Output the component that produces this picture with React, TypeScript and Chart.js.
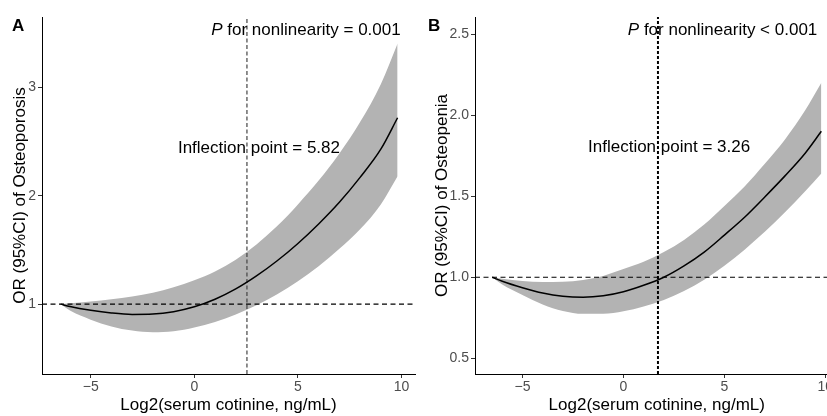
import React, { useEffect, useRef } from "react";
import { Chart, registerables } from "chart.js";

Chart.register(...registerables);

// ---------------- data ----------------
// Panel A: Osteoporosis
const X_A = [-6.45, -6, -5, -4, -3, -2, -1, 0, 1, 2, 3, 4, 5, 6, 7, 8, 9, 9.81];
const OR_A = [1.0, 0.978, 0.943, 0.918, 0.905, 0.908, 0.93, 0.975, 1.045, 1.14, 1.26, 1.4, 1.56, 1.74, 1.94, 2.17, 2.43, 2.72];
const UPPER_A = [1.0, 1.008, 1.025, 1.045, 1.07, 1.105, 1.155, 1.22, 1.3, 1.41, 1.55, 1.72, 1.92, 2.14, 2.39, 2.68, 3.03, 3.405];
const LOWER_A = [1.0, 0.94, 0.856, 0.794, 0.756, 0.741, 0.75, 0.785, 0.835, 0.905, 0.99, 1.09, 1.21, 1.35, 1.51, 1.69, 1.92, 2.18];

// Panel B: Osteopenia
const X_B = [-6.5, -6, -5, -4, -3, -2, -1, 0, 1, 2, 3, 4, 5, 6, 7, 8, 9, 9.8];
const OR_B = [1.0, 0.975, 0.935, 0.902, 0.882, 0.876, 0.885, 0.91, 0.95, 1.0, 1.07, 1.155, 1.26, 1.37, 1.495, 1.625, 1.765, 1.9];
const UPPER_B = [1.0, 0.99, 0.977, 0.97, 0.972, 0.983, 1.008, 1.05, 1.095, 1.155, 1.23, 1.325, 1.44, 1.56, 1.7, 1.85, 2.03, 2.2];
const LOWER_B = [1.0, 0.955, 0.89, 0.832, 0.792, 0.774, 0.774, 0.79, 0.82, 0.86, 0.915, 0.985, 1.07, 1.17, 1.28, 1.4, 1.53, 1.64];

const X_TICKS = [-5, 0, 5, 10];
const Y_TICKS_A = [1, 2, 3];
const Y_TICKS_B = [0.5, 1.0, 1.5, 2.0, 2.5];

const REF_OR = 1;
const INFLECTION_LOG2_A = 2.54; // log2(5.82)
const INFLECTION_LOG2_B = 1.71; // log2(3.26)

const X_LABEL = "Log2(serum cotinine, ng/mL)";
const Y_LABEL_A = "OR (95%CI) of Osteoporosis";
const Y_LABEL_B = "OR (95%CI) of Osteopenia";
const P_TEXT_A = " for nonlinearity = 0.001";
const P_TEXT_B = " for nonlinearity < 0.001";
const INFL_TEXT_A = "Inflection point = 5.82";
const INFL_TEXT_B = "Inflection point = 3.26";

// ---------------- styling ----------------
const FONT = "'Liberation Sans', Arial, Helvetica, sans-serif";
Chart.defaults.font.family = FONT;

type PanelCfg = {
  tag: string;
  left: number;
  width: number;
  xs: number[];
  or: number[];
  upper: number[];
  lower: number[];
  yTicks: number[];
  yMin: number;
  yMax: number;
  yDecimals: number;
  yLabel: string;
  yAxisWidth: number;
  yTitlePad: number;
  rightPad: number;
  vLine: number;
  vColor: string;
  vWidth: number;
  vDash: number[];
  pText: string;
  pAt: [number, number];
  inflText: string;
  inflAt: [number, number];
};

const X_MIN = -7.35;
const X_MAX = 10.65;

const PANELS: PanelCfg[] = [
  {
    tag: "A",
    left: 0,
    width: 416,
    xs: X_A,
    or: OR_A,
    upper: UPPER_A,
    lower: LOWER_A,
    yTicks: Y_TICKS_A,
    yMin: 0.355,
    yMax: 3.65,
    yDecimals: 0,
    yLabel: Y_LABEL_A,
    yAxisWidth: 42,
    yTitlePad: 10.5,
    rightPad: 1,
    vLine: INFLECTION_LOG2_A,
    vColor: "#444444",
    vWidth: 1.2,
    vDash: [4, 2.5],
    pText: P_TEXT_A,
    pAt: [9.96, 3.482],
    inflText: INFL_TEXT_A,
    inflAt: [3.12, 2.399],
  },
  {
    tag: "B",
    left: 416,
    width: 430,
    xs: X_B,
    or: OR_B,
    upper: UPPER_B,
    lower: LOWER_B,
    yTicks: Y_TICKS_B,
    yMin: 0.403,
    yMax: 2.605,
    yDecimals: 1,
    yLabel: Y_LABEL_B,
    yAxisWidth: 59,
    yTitlePad: 16.3,
    rightPad: 7.5,
    vLine: INFLECTION_LOG2_B,
    vColor: "#000000",
    vWidth: 2,
    vDash: [3, 2],
    pText: P_TEXT_B,
    pAt: [9.6, 2.496],
    inflText: INFL_TEXT_B,
    inflAt: [2.26, 1.77],
  },
];

function fmtX(v: number): string {
  return v < 0 ? "\u2212" + Math.abs(v) : String(v);
}

function Panel({ cfg }: { cfg: PanelCfg }) {
  const ref = useRef<HTMLCanvasElement | null>(null);

  useEffect(() => {
    const canvas = ref.current;
    if (!canvas) return;
    const pts = (xs: number[], ys: number[]) => xs.map((x, i) => ({ x, y: ys[i] }));

    const textPlugin = {
      id: "texts" + cfg.tag,
      afterDraw(chart: any) {
        const ctx = chart.ctx as CanvasRenderingContext2D;
        const xs = chart.scales.x;
        const ys = chart.scales.y;
        ctx.save();
        ctx.fillStyle = "#000";
        // panel tag
        ctx.font = `bold 17px ${FONT}`;
        ctx.textAlign = "left";
        ctx.textBaseline = "alphabetic";
        ctx.fillText(cfg.tag, 12, 31);
        // P for nonlinearity (right aligned)
        const px = xs.getPixelForValue(cfg.pAt[0]);
        const py = ys.getPixelForValue(cfg.pAt[1]);
        ctx.font = `italic 17px ${FONT}`;
        const wP = ctx.measureText("P").width;
        ctx.font = `17px ${FONT}`;
        const wR = ctx.measureText(cfg.pText).width;
        const start = px - wP - wR;
        ctx.font = `italic 17px ${FONT}`;
        ctx.fillText("P", start, py);
        ctx.font = `17px ${FONT}`;
        ctx.fillText(cfg.pText, start + wP, py);
        // inflection text (centered)
        ctx.textAlign = "center";
        ctx.fillText(cfg.inflText, xs.getPixelForValue(cfg.inflAt[0]), ys.getPixelForValue(cfg.inflAt[1]));
        ctx.restore();
      },
    };

    const chart = new Chart(canvas, {
      type: "line",
      data: {
        datasets: [
          {
            label: "OR",
            data: pts(cfg.xs, cfg.or),
            borderColor: "#000000",
            borderWidth: 1.5,
            pointRadius: 0,
            fill: false,
            cubicInterpolationMode: "monotone",
            order: 0,
          },
          {
            label: "ref-h",
            data: [
              { x: X_MIN, y: REF_OR },
              { x: X_MAX, y: REF_OR },
            ],
            borderColor: "#000000",
            borderWidth: 1.1,
            borderDash: [5, 3.5],
            pointRadius: 0,
            fill: false,
            order: 1,
          },
          {
            label: "ref-v",
            data: [
              { x: cfg.vLine, y: cfg.yMin },
              { x: cfg.vLine, y: cfg.yMax },
            ],
            borderColor: cfg.vColor,
            borderWidth: cfg.vWidth,
            borderDash: cfg.vDash,
            pointRadius: 0,
            fill: false,
            order: 1,
          },
          {
            label: "upper",
            data: pts(cfg.xs, cfg.upper),
            borderWidth: 0,
            borderColor: "rgba(0,0,0,0)",
            backgroundColor: "#B3B3B3",
            pointRadius: 0,
            fill: "+1",
            cubicInterpolationMode: "monotone",
            order: 10,
          },
          {
            label: "lower",
            data: pts(cfg.xs, cfg.lower),
            borderWidth: 0,
            borderColor: "rgba(0,0,0,0)",
            pointRadius: 0,
            fill: false,
            cubicInterpolationMode: "monotone",
            order: 11,
          },
        ],
      },
      options: {
        animation: false,
        responsive: false,
        devicePixelRatio: 1,
        events: [],
        layout: { padding: { top: 17, right: cfg.rightPad, left: 0, bottom: 0 } },
        plugins: {
          legend: { display: false },
          tooltip: { enabled: false },
          title: { display: false },
        },
        scales: {
          x: {
            type: "linear",
            min: X_MIN,
            max: X_MAX,
            afterBuildTicks: (scale: any) => {
              scale.ticks = X_TICKS.map((v) => ({ value: v }));
            },
            afterFit: (scale: any) => {
              scale.height = 42;
            },
            ticks: {
              autoSkip: false,
              maxRotation: 0,
              padding: 1,
              color: "#4D4D4D",
              font: { size: 14 },
              callback: (v: any) => fmtX(Number(v)),
            },
            grid: {
              display: true,
              drawOnChartArea: false,
              drawTicks: true,
              tickLength: 4,
              color: "#333333",
              lineWidth: 1,
            },
            border: { display: true, color: "#000000", width: 1 },
            title: {
              display: true,
              text: X_LABEL,
              color: "#000000",
              font: { size: 17 },
              padding: { top: 0, bottom: 0 },
            },
          },
          y: {
            type: "linear",
            min: cfg.yMin,
            max: cfg.yMax,
            afterBuildTicks: (scale: any) => {
              scale.ticks = cfg.yTicks.map((v) => ({ value: v }));
            },
            afterFit: (scale: any) => {
              scale.width = cfg.yAxisWidth;
            },
            ticks: {
              autoSkip: false,
              padding: 2,
              color: "#4D4D4D",
              font: { size: 14 },
              callback: (v: any) => Number(v).toFixed(cfg.yDecimals),
            },
            grid: {
              display: true,
              drawOnChartArea: false,
              drawTicks: true,
              tickLength: 4,
              color: "#333333",
              lineWidth: 1,
            },
            border: { display: true, color: "#000000", width: 1 },
            title: {
              display: true,
              text: cfg.yLabel,
              color: "#000000",
              font: { size: 17 },
              padding: { top: cfg.yTitlePad, bottom: 0 },
            },
          },
        },
      } as any,
      plugins: [textPlugin],
    });
    return () => chart.destroy();
  }, [cfg]);

  return (
    <canvas
      ref={ref}
      width={cfg.width}
      height={416}
      style={{ position: "absolute", left: cfg.left, top: 0, width: cfg.width, height: 416, display: "block" }}
    />
  );
}

export default function App() {
  return (
    <div
      style={{
        position: "fixed",
        left: 0,
        top: 0,
        width: 827,
        height: 416,
        overflow: "hidden",
        background: "#ffffff",
      }}
    >
      {PANELS.map((p) => (
        <Panel key={p.tag} cfg={p} />
      ))}
    </div>
  );
}
